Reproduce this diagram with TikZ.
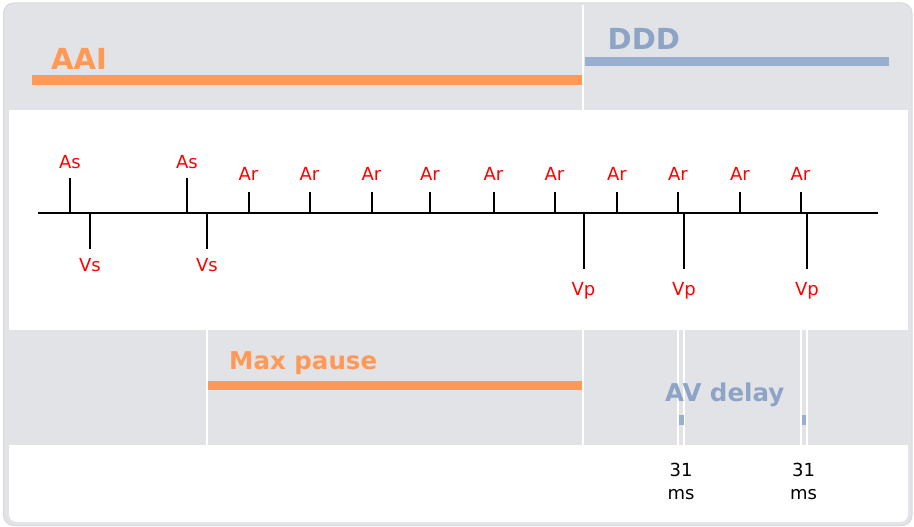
\documentclass[tikz,border=0pt]{standalone}
\usepackage{fontspec}
\setmainfont{DejaVu Sans}
\definecolor{panel}{HTML}{E2E3E7}
\definecolor{frame}{HTML}{D9DADE}
\definecolor{orng}{HTML}{FF9955}
\definecolor{blu}{HTML}{98AFD0}
\definecolor{blutxt}{HTML}{8DA4C6}
\begin{document}
\begin{tikzpicture}[x=1pt,y=-1pt,
  lbl/.style={text=red,font=\fontsize{18}{20}\selectfont,inner sep=0,anchor=base},
  big/.style={font=\bfseries\fontsize{29}{32}\selectfont,inner sep=0,anchor=base west},
  mid/.style={font=\bfseries\fontsize{24.5}{28}\selectfont,inner sep=0,anchor=base west},
  num/.style={font=\fontsize{18}{20}\selectfont,inner sep=0,anchor=base},
  bar/.style={line width=9.5pt},
  sep/.style={white,line width=1.8pt},
  axis/.style={black,line width=2pt},
  tick/.style={black,line width=2pt}]
\useasboundingbox (0,0) rectangle (914,527);
% panel
\fill[panel,draw=frame,line width=1pt,rounded corners=10] (3.5,3) rectangle (912,525.5);
\fill[white] (9,110) rectangle (908,330);
\fill[white] (9,445) -- (908,445) {[rounded corners=8] -- (908,522) -- (9,522)} -- cycle;
% separators
\draw[sep] (583,5) -- (583,110);
\foreach \x in {207,583,678,684,801,807} \draw[sep] (\x,330) -- (\x,445);
% bars and titles
\draw[bar,orng] (32,80) -- (582,80);
\node[big,text=orng] (aai) at (51,69.5) {AAI};
\draw[bar,blu] (584.5,61.5) -- (889,61.5);
\node[big,text=blutxt] (ddd) at (607.5,50) {DDD};
\draw[bar,orng] (208,385.5) -- (582,385.5);
\node[mid,text=orng] (mp) at (229,369) {Max pause};
\node[mid,text=blutxt] (avd) at (665,401.5) {AV delay};
\draw[bar,blu] (679,420) -- (684,420);
\draw[bar,blu] (801.5,420) -- (806,420);
% timeline
\coordinate (L) at (38,213);
\coordinate (R) at (878,213);
\draw[axis] (L) -- (R);
\foreach \x [count=\i] in {70,187} {
  \coordinate (as\i) at (\x,213);
  \draw[tick] (as\i) -- ++(0,-35.5);
  \node[lbl] (asl\i) at (\x,168.5) {As};
}
\foreach \x [count=\i] in {90,207} {
  \coordinate (vs\i) at (\x,213);
  \draw[tick] (vs\i) -- ++(0,36);
  \node[lbl] (vsl\i) at (\x,271) {Vs};
}
\foreach \x [count=\i] in {248.5,309.5,371.5,430,493.5,554.5,617,678,740,800.5} {
  \coordinate (ar\i) at (\x,213);
  \draw[tick] (ar\i) -- ++(0,-21.5);
  \node[lbl] (arl\i) at (\x,180.5) {Ar};
}
\foreach \x [count=\i] in {583.5,684,807} {
  \coordinate (vp\i) at (\x,213);
  \draw[tick] (vp\i) -- ++(0,56);
  \node[lbl] (vpl\i) at (\x,295.5) {Vp};
}
% durations
\node[num] (d1a) at (681,476) {31};
\node[num] (d1b) at (681,499) {ms};
\node[num] (d2a) at (803.5,476) {31};
\node[num] (d2b) at (803.5,499) {ms};
\end{tikzpicture}
\end{document}
